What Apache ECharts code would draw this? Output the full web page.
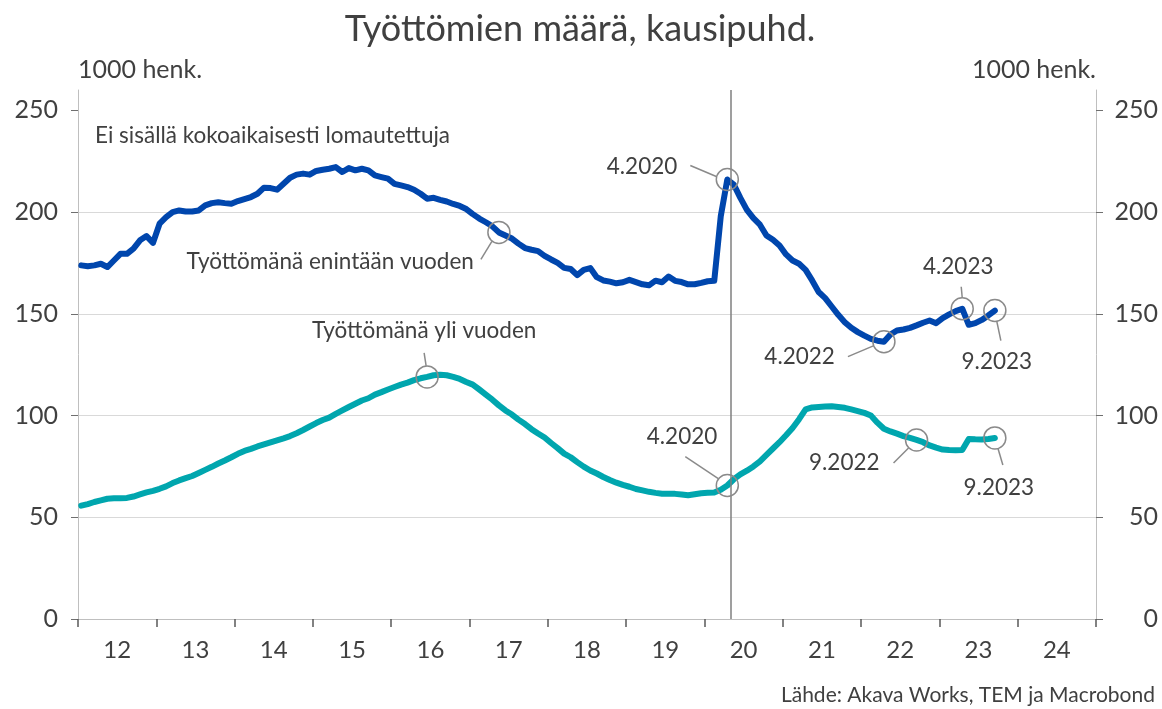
<!DOCTYPE html>
<html>
<head>
<meta charset="utf-8">
<script src="https://cdn.jsdelivr.net/npm/echarts@6/dist/echarts.min.js"></script>
<style>
  html, body { margin: 0; padding: 0; background: #fff; }
  #chart { width: 1162px; height: 709px; }
</style>
</head>
<body>
<div id="chart"></div>
<script>
const startYear = 2012
const yearLabels = ['12', '13', '14', '15', '16', '17', '18', '19', '20', '21', '22', '23', '24']
const yTicks = [0, 50, 100, 150, 200, 250]

// monthly, 1.2012 - 9.2023, 1000 henk.
const enintaanVuoden = [
  173.8, 173.4, 173.8, 174.6, 173.0, 176.2, 179.5, 179.5, 182.0, 186.1, 188.2, 184.9,
  194.3, 197.5, 200.0, 200.8, 200.3, 200.3, 200.8, 203.3, 204.4, 204.8, 204.4, 204.1,
  205.4, 206.4, 207.4, 209.0, 212.0, 211.8, 211.0, 213.9, 216.9, 218.4, 218.9, 218.4,
  220.2, 220.8, 221.3, 222.1, 219.7, 221.6, 220.5, 221.3, 220.5, 218.0, 217.2, 216.4,
  213.9, 213.1, 212.3, 211.0, 209.0, 206.6, 207.0, 206.0, 205.2, 204.0, 203.0, 201.5,
  199.0, 196.8, 195.0, 193.0, 190.0, 188.5, 187.0, 184.5, 182.3, 181.5, 180.8, 178.5,
  176.7, 175.0, 172.6, 172.0, 169.0, 171.6, 172.5, 168.0, 166.4, 165.8, 165.0, 165.5,
  166.7, 165.6, 164.5, 164.0, 166.3, 165.5, 168.3, 166.2, 165.6, 164.5, 164.5, 165.2,
  166.0, 166.2, 198.0, 216.0, 213.5, 207.0, 201.1, 197.0, 193.8, 188.5, 186.4, 183.6,
  179.2, 176.2, 174.6, 171.6, 166.4, 160.7, 157.7, 153.6, 149.5, 145.9, 143.1, 141.0,
  139.3, 137.7, 136.8, 136.3, 139.8, 141.8, 142.3, 143.1, 144.3, 145.6, 146.7, 145.4,
  147.9, 149.7, 151.3, 152.5, 144.6, 145.4, 147.0, 149.2, 151.6
]

const yliVuoden = [
  55.7, 56.5, 57.5, 58.3, 59.1, 59.3, 59.4, 59.5, 60.2, 61.2, 62.2, 63.0,
  64.0, 65.2, 66.8, 68.1, 69.2, 70.3, 71.8, 73.3, 74.8, 76.4, 77.9, 79.5,
  81.2, 82.6, 83.6, 84.8, 85.8, 86.8, 87.8, 88.8, 89.9, 91.3, 92.9, 94.6,
  96.3, 97.8, 99.0, 100.8, 102.5, 104.2, 105.8, 107.4, 108.5, 110.3, 111.5, 112.8,
  114.0, 115.2, 116.2, 117.4, 118.3, 119.0, 119.8, 120.1, 119.8, 119.0, 118.0, 116.5,
  115.2, 112.8, 110.3, 107.8, 105.0, 102.5, 100.5, 98.0, 95.8, 93.3, 91.2, 89.2,
  86.5, 84.0, 81.3, 79.5, 77.1, 74.9, 73.0, 71.5, 69.8, 68.3, 67.0, 65.9,
  65.0, 63.9, 63.2, 62.5, 62.0, 61.6, 61.5, 61.5, 61.2, 60.8, 61.3, 61.8,
  62.0, 62.2, 63.5, 65.6, 68.7, 71.1, 72.9, 75.0, 77.5, 80.7, 83.8, 86.9,
  90.3, 93.9, 98.2, 103.0, 104.0, 104.2, 104.4, 104.6, 104.2, 103.8, 103.0, 102.2,
  101.3, 100.0, 96.5, 93.5, 92.2, 91.1, 89.9, 89.0, 88.0, 86.9, 85.3, 84.2,
  83.3, 83.1, 83.0, 83.1, 88.5, 88.3, 88.2, 88.5, 89.0
]

const FONT = 'Lato'
const TXT = '#404040'
const GRAY = '#8a8a8a'

// '4.2020' -> month index from 1.2012
function monthIndex(s) {
  const [m, y] = s.split('.').map(Number)
  return (y - startYear) * 12 + (m - 1)
}

const seriesValues = { blue: enintaanVuoden, teal: yliVuoden }

// circle annotations, offsets relative to circle centre
const notes = [
  { s: 'blue', at: '5.2017', text: 'Työttömänä enintään vuoden', align: 'right', t: [-25, 29], l: [[-18, 27], [-7, 9]] },
  { s: 'teal', at: '6.2016', text: 'Työttömänä yli vuoden', align: 'center', t: [-3, -46], l: [[-3, -24], [-1, -11]] },
  { s: 'blue', at: '4.2020', text: '4.2020', align: 'right', t: [-50, -13], l: [[-37, -14], [-11, -3]] },
  { s: 'teal', at: '4.2020', text: '4.2020', align: 'right', t: [-10, -49], l: [[-42, -29], [-9, -7]] },
  { s: 'blue', at: '4.2022', text: '4.2022', align: 'right', t: [-49, 15], l: [[-36, 15], [-10, 4]] },
  { s: 'blue', at: '4.2023', text: '4.2023', align: 'center', t: [-4, -42], l: [[-1, -22], [0, -11]] },
  { s: 'blue', at: '9.2023', text: '9.2023', align: 'center', t: [2, 51], l: [[6, 30], [2, 11]] },
  { s: 'teal', at: '9.2022', text: '9.2022', align: 'right', t: [-37, 23], l: [[-23, 23], [-8, 8]] },
  { s: 'teal', at: '9.2023', text: '9.2023', align: 'center', t: [4, 50], l: [[8, 27], [3, 10]] }
]

function pairs(values) {
  return values.map((v, i) => [i + 0.5, v])
}

function circles(key) {
  return notes.filter(n => n.s === key).map(n => {
    const i = monthIndex(n.at)
    return { coord: [i + 0.5, seriesValues[key][i]] }
  })
}

const circleStyle = {
  symbol: 'circle',
  symbolSize: 22,
  silent: true,
  itemStyle: { color: 'rgba(0,0,0,0)', borderColor: GRAY, borderWidth: 1.5 },
  label: { show: false }
}

function yAxis(side) {
  return {
    type: 'value',
    position: side,
    min: 0,
    max: 260,
    interval: 50,
    axisLine: { show: true, lineStyle: { color: '#bfbfbf', width: 1 } },
    axisTick: { show: true, inside: false, length: 7, customValues: yTicks, lineStyle: { color: '#6f6f6f', width: 1 } },
    axisLabel: {
      customValues: yTicks, fontFamily: FONT, fontSize: 25, color: TXT,
      align: 'right', margin: side === 'left' ? 20 : 62
    },
    splitLine: { show: side === 'left', showMaxLine: false, lineStyle: { color: '#d9d9d9' } },
    name: '1000 henk.',
    nameLocation: 'end',
    nameGap: 8,
    nameTextStyle: { fontFamily: FONT, fontSize: 25, color: TXT, align: side, verticalAlign: 'bottom' }
  }
}

const chart = echarts.init(document.getElementById('chart'), null, { renderer: 'canvas' })

chart.setOption({
  animation: false,
  backgroundColor: '#fff',
  grid: { left: 78, right: 66, top: 90, bottom: 90, containLabel: false },
  xAxis: [
    {
      type: 'category',
      data: yearLabels,
      boundaryGap: true,
      axisLine: { show: true, lineStyle: { color: '#bfbfbf' } },
      axisTick: { show: true, interval: 0, alignWithLabel: false, length: 8, lineStyle: { color: '#595959', width: 1.5 } },
      axisLabel: { fontFamily: FONT, fontSize: 24, color: TXT, margin: 19 }
    },
    { type: 'value', min: 0, max: yearLabels.length * 12, show: false }
  ],
  yAxis: [yAxis('left'), yAxis('right')],
  series: [
    {
      name: 'Työttömänä enintään vuoden',
      type: 'line',
      xAxisIndex: 1,
      yAxisIndex: 0,
      data: pairs(enintaanVuoden),
      showSymbol: false,
      lineStyle: { color: '#0046AD', width: 6, join: 'round', cap: 'round' },
      z: 3,
      markLine: {
        silent: true,
        symbol: 'none',
        label: { show: false },
        lineStyle: { color: '#7f7f7f', width: 1.5, type: 'solid' },
        data: [{ xAxis: monthIndex('4.2020') + 1 }]
      },
      markPoint: Object.assign({ data: circles('blue') }, circleStyle)
    },
    {
      name: 'Työttömänä yli vuoden',
      type: 'line',
      xAxisIndex: 1,
      yAxisIndex: 0,
      data: pairs(yliVuoden),
      showSymbol: false,
      lineStyle: { color: '#00A6AE', width: 6, join: 'round', cap: 'round' },
      z: 3,
      markPoint: Object.assign({ data: circles('teal') }, circleStyle)
    }
  ]
})

// texts + leader lines, placed from the data point pixels
const graphics = [
  {
    type: 'text', x: 580, y: 29,
    style: { text: 'Työttömien määrä, kausipuhd.', font: '36px ' + FONT, fill: TXT, textAlign: 'center', textVerticalAlign: 'middle' }
  },
  {
    type: 'text', x: 95, y: 136,
    style: { text: 'Ei sisällä kokoaikaisesti lomautettuja', font: '22.5px ' + FONT, fill: TXT, textAlign: 'left', textVerticalAlign: 'middle' }
  },
  {
    type: 'text', x: 1155, y: 695,
    style: { text: 'Lähde: Akava Works, TEM ja Macrobond', font: '21px ' + FONT, fill: TXT, textAlign: 'right', textVerticalAlign: 'middle' }
  }
]

for (const n of notes) {
  const i = monthIndex(n.at)
  const p = chart.convertToPixel({ xAxisIndex: 1, yAxisIndex: 0 }, [i + 0.5, seriesValues[n.s][i]])
  graphics.push({
    type: 'text', x: p[0] + n.t[0], y: p[1] + n.t[1], z: 10,
    style: { text: n.text, font: '22.5px ' + FONT, fill: TXT, textAlign: n.align, textVerticalAlign: 'middle' }
  })
  graphics.push({
    type: 'line', z: 10,
    shape: { x1: p[0] + n.l[0][0], y1: p[1] + n.l[0][1], x2: p[0] + n.l[1][0], y2: p[1] + n.l[1][1] },
    style: { stroke: GRAY, lineWidth: 1.5 }
  })
}

chart.setOption({ graphic: graphics })
</script>
</body>
</html>
